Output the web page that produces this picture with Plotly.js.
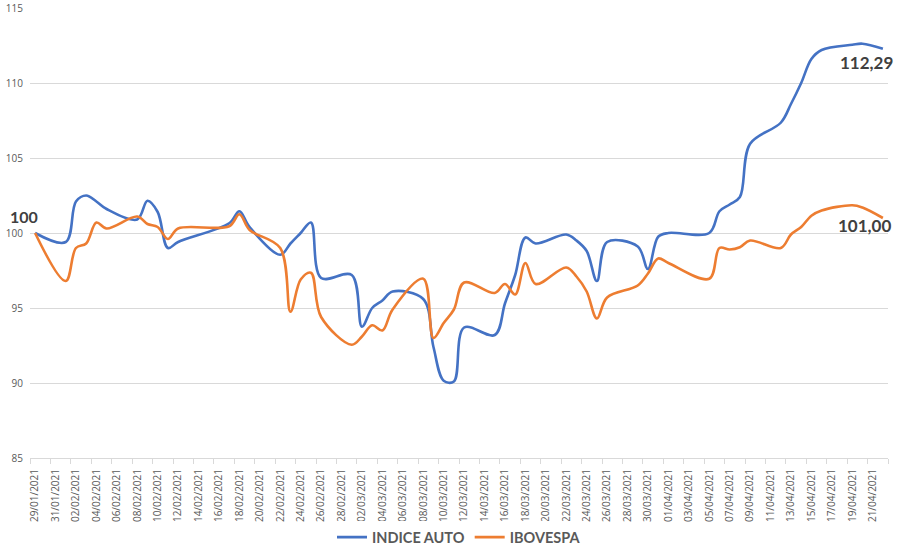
<!DOCTYPE html>
<html>
<head>
<meta charset="utf-8">
<script src="https://cdn.plot.ly/plotly-3.0.1.min.js"></script>
<style>html,body{margin:0;padding:0;background:#fff;}#chart{width:901px;height:556px;}</style>
</head>
<body>
<div id="chart"></div>
<script>
const dates = ["2021-01-29","2021-02-01","2021-02-02","2021-02-03","2021-02-04","2021-02-05",
"2021-02-08","2021-02-09","2021-02-10","2021-02-11","2021-02-12",
"2021-02-17","2021-02-18","2021-02-19",
"2021-02-22","2021-02-23","2021-02-24","2021-02-25","2021-02-26",
"2021-03-01","2021-03-02","2021-03-03","2021-03-04","2021-03-05",
"2021-03-08","2021-03-09","2021-03-10","2021-03-11","2021-03-12",
"2021-03-15","2021-03-16","2021-03-17","2021-03-18","2021-03-19",
"2021-03-22","2021-03-23","2021-03-24","2021-03-25","2021-03-26",
"2021-03-29","2021-03-30","2021-03-31","2021-04-01",
"2021-04-05","2021-04-06","2021-04-07","2021-04-08","2021-04-09",
"2021-04-12","2021-04-13","2021-04-14","2021-04-15","2021-04-16",
"2021-04-19","2021-04-20","2021-04-22"];

const indiceAuto = [100, 99.4, 102.1, 102.5, 102.1, 101.6,
100.9, 102.15, 101.4, 99.0, 99.4,
100.65, 101.45, 100.4,
98.55, 99.3, 100.0, 100.7, 97.0,
97.2, 93.75, 95.0, 95.5, 96.1,
95.6, 92.4, 90.15, 90.1, 93.7,
93.2, 95.3, 97.2, 99.7, 99.3,
99.9, 99.5, 98.8, 96.8, 99.4,
99.1, 97.6, 99.75, 100.0,
100.0, 101.45, 101.9, 102.4, 105.95,
107.35, 108.6, 110.0, 111.6, 112.2,
112.55, 112.62, 112.29];

const ibovespa = [100, 96.8, 99.0, 99.3, 100.7, 100.3,
101.1, 100.6, 100.4, 99.6, 100.3,
100.45, 101.25, 100.2,
99.0, 94.75, 96.9, 97.35, 94.4,
92.55, 93.1, 93.85, 93.5, 94.9,
96.95, 93.0, 94.0, 94.9, 96.7,
96.0, 96.6, 95.9, 98.0, 96.6,
97.7, 97.1, 96.1, 94.3, 95.7,
96.5, 97.3, 98.3, 98.0,
96.95, 99.0, 98.9, 99.05, 99.5,
99.0, 99.9, 100.4, 101.15, 101.5,
101.85, 101.7, 101.00];

const seriesNames = ["INDICE AUTO", "IBOVESPA"];
const yTicks = [85, 90, 95, 100, 105, 110, 115];

const fmt = v => v.toFixed(2).replace('.', ',');
const last = arr => arr[arr.length - 1];

const traces = [
  {x: dates, y: indiceAuto, name: seriesNames[0], type: 'scatter', mode: 'lines',
   line: {color: '#4472C4', width: 2.6, shape: 'spline', smoothing: 1}},
  {x: dates, y: ibovespa, name: seriesNames[1], type: 'scatter', mode: 'lines',
   line: {color: '#ED7D31', width: 2.6, shape: 'spline', smoothing: 1}}
];

const labelFont = {family: 'Lato, "Open Sans", sans-serif', size: 17, color: '#404040', weight: 'bold'};

const layout = {
  width: 901, height: 556,
  margin: {l: 30, r: 13, t: 8, b: 98, autoexpand: false},
  paper_bgcolor: '#ffffff', plot_bgcolor: '#ffffff',
  showlegend: true,
  legend: {orientation: 'h', x: 0.5, xanchor: 'center', y: -0.176, yanchor: 'middle',
    font: {family: 'Lato, "Open Sans", sans-serif', size: 14.5, color: '#595959', weight: 'bold'},
    itemwidth: 30, tracegroupgap: 0},
  xaxis: {
    type: 'date', automargin: false,
    range: ['2021-01-28 12:00', '2021-04-22 12:00'],
    tick0: '2021-01-29', dtick: 2 * 86400000,
    tickformat: '%d/%m/%Y', tickangle: -90,
    ticks: '', showgrid: false, zeroline: false,
    showline: true, linecolor: '#d9d9d9', linewidth: 1,
    tickfont: {family: '"Open Sans", sans-serif', size: 10, color: '#595959'},
    ticklabelstandoff: 6,
    minor: {ticks: 'outside', ticklen: 5, tickcolor: '#d9d9d9', tickwidth: 1,
            tick0: '2021-01-28 12:00', dtick: 2 * 86400000, showgrid: false}
  },
  yaxis: {
    range: [85, 115], tickvals: yTicks, ticktext: yTicks.map(String), automargin: false,
    showgrid: true, gridcolor: '#d9d9d9', gridwidth: 1,
    zeroline: false, showline: false, ticks: '',
    tickfont: {family: '"Open Sans", sans-serif', size: 10, color: '#595959'},
    ticklabelstandoff: 6
  },
  annotations: [
    {x: dates[0], y: indiceAuto[0], xref: 'x', yref: 'y', text: String(indiceAuto[0]),
     showarrow: false, font: Object.assign({}, labelFont, {size: 16}), xanchor: 'center', yanchor: 'bottom',
     xshift: -11, yshift: 6, borderpad: 0},
    {x: last(dates), y: last(indiceAuto), xref: 'x', yref: 'y', text: fmt(last(indiceAuto)),
     showarrow: false, font: labelFont, xanchor: 'center', yanchor: 'middle', xshift: -16, yshift: -14},
    {x: last(dates), y: last(ibovespa), xref: 'x', yref: 'y', text: fmt(last(ibovespa)),
     showarrow: false, font: labelFont, xanchor: 'center', yanchor: 'middle', xshift: -18, yshift: -7}
  ]
};

Plotly.newPlot('chart', traces, layout, {staticPlot: true, displayModeBar: false});
</script>
</body>
</html>
